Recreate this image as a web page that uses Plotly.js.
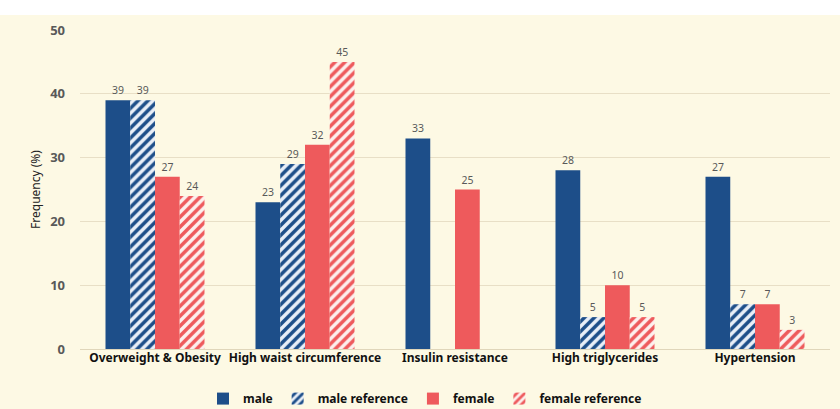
<!DOCTYPE html>
<html>
<head>
<meta charset="utf-8">
<script src="https://cdn.plot.ly/plotly-3.0.1.min.js"></script>
<style>
html,body{margin:0;padding:0;background:#ffffff;}
#chart{position:absolute;left:0;top:15px;width:840px;height:394px;}
</style>
</head>
<body>
<div id="chart"></div>
<script>
const categories = ["Overweight & Obesity", "High waist circumference", "Insulin resistance", "High triglycerides", "Hypertension"];
const male = [39, 23, 33, 28, 27];
const maleReference = [39, 29, null, 5, 7];
const female = [27, 32, 25, 10, 7];
const femaleReference = [24, 45, null, 5, 3];
const yTicks = [0, 10, 20, 30, 40, 50];

const BLUE = '#1d4e89';
const RED = '#ee5a5c';
const textFont = {family: 'Noto Sans, Open Sans, sans-serif', size: 10.5, color: '#595959'};

function bar(name, y, color, hatched) {
  const marker = {color: color, line: {width: 0}};
  if (hatched) {
    marker.pattern = {shape: '/', fgcolor: color, fgopacity: 1, bgcolor: hatched.bg, size: 7, solidity: 0.5, fillmode: 'replace'};
  }
  return {
    type: 'bar', name: name, x: categories, y: y,
    marker: marker,
    texttemplate: '%{y}', textposition: 'outside', cliponaxis: false,
    textfont: textFont, hoverinfo: 'skip'
  };
}

const data = [
  bar('male', male, BLUE),
  bar('male reference', maleReference, BLUE, {bg: '#e9eff8'}),
  bar('female', female, RED),
  bar('female reference', femaleReference, RED, {bg: '#fdf0ee'})
];

const layout = {
  width: 840, height: 394,
  paper_bgcolor: '#fdf9e4', plot_bgcolor: '#fdf9e4',
  margin: {l: 80, r: 10, t: 15, b: 60, autoexpand: false},
  barmode: 'group', bargap: 0.34, bargroupgap: 0,
  font: {family: 'Noto Sans, Open Sans, sans-serif', color: '#333333'},
  xaxis: {
    tickfont: {size: 12, color: '#111111', family: 'Noto Sans, sans-serif', weight: 'bold'},
    showgrid: false, zeroline: false, showline: false, ticks: '',
    fixedrange: true
  },
  yaxis: {
    range: [0, 50], tickvals: yTicks, ticktext: yTicks.map(String),
    tickfont: {size: 13, color: '#595959', weight: 'bold'},
    gridcolor: '#e8dfc6', gridwidth: 1, zeroline: true, zerolinecolor: '#e0d6ba', zerolinewidth: 1,
    showline: false, ticks: '', ticklen: 0, ticklabelstandoff: 14,
    title: {text: 'Frequency (%)', font: {size: 12, color: '#222222'}, standoff: 6},
    fixedrange: true
  },
  legend: {
    orientation: 'h', x: 0.46, xanchor: 'center', y: -0.11, yanchor: 'top',
    font: {size: 12, color: '#111111', weight: 'bold'},
    bgcolor: 'rgba(0,0,0,0)', itemwidth: 30, traceorder: 'normal'
  },
  showlegend: true
};

Plotly.newPlot('chart', data, layout, {displayModeBar: false, staticPlot: true});
</script>
</body>
</html>
